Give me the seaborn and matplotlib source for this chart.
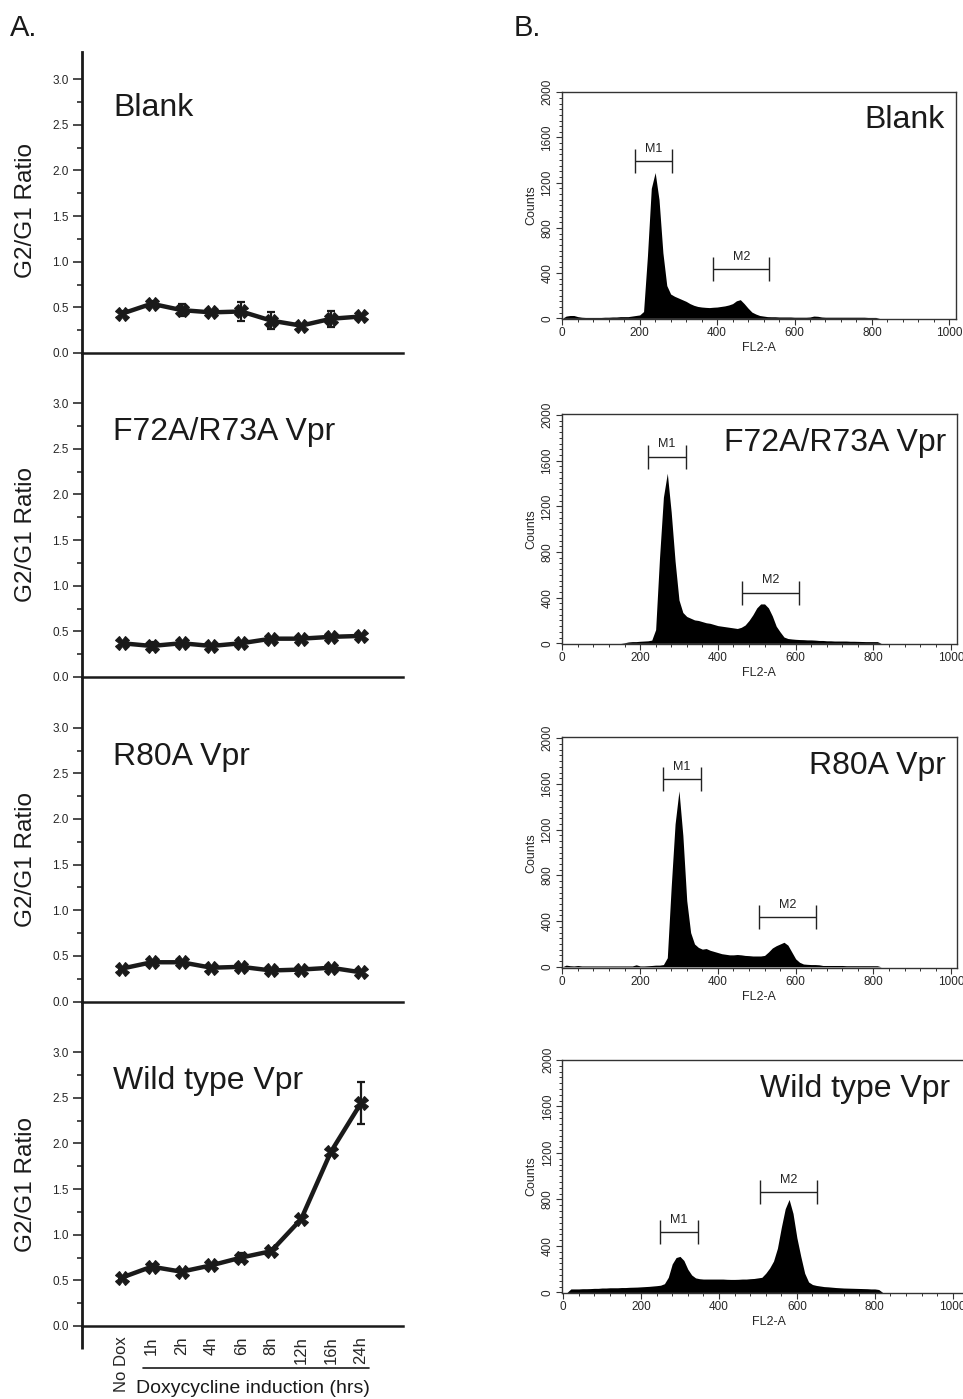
import numpy as np
import pandas as pd
import matplotlib
matplotlib.use("Agg")
import matplotlib.pyplot as plt
from matplotlib.ticker import MultipleLocator, FixedLocator
import seaborn as sns

sns.set_theme(style="ticks")
plt.rcParams["font.family"] = ["Liberation Sans", "DejaVu Sans"]

# --- A: G2/G1 ratio time course ---
time_labels = ["No Dox", "1h", "2h", "4h", "6h", "8h", "12h", "16h", "24h"]
panel_names = ["Blank", "F72A/R73A Vpr", "R80A Vpr", "Wild type Vpr"]

blank_ratio = [0.43, 0.54, 0.47, 0.445, 0.455, 0.355, 0.30, 0.375, 0.40]
blank_err = [0.03, 0.03, 0.07, 0.03, 0.10, 0.09, 0.02, 0.09, 0.03]
f72_ratio = [0.37, 0.34, 0.37, 0.34, 0.37, 0.42, 0.42, 0.44, 0.45]
f72_err = [0.02, 0.04, 0.02, 0.02, 0.02, 0.02, 0.02, 0.02, 0.02]
r80_ratio = [0.36, 0.43, 0.43, 0.37, 0.38, 0.34, 0.35, 0.37, 0.32]
r80_err = [0.02, 0.02, 0.02, 0.02, 0.02, 0.02, 0.02, 0.02, 0.02]
wt_ratio = [0.53, 0.65, 0.595, 0.665, 0.75, 0.82, 1.17, 1.91, 2.44]
wt_err = [0.02, 0.03, 0.02, 0.03, 0.05, 0.03, 0.02, 0.03, 0.23]

ratios = [blank_ratio, f72_ratio, r80_ratio, wt_ratio]
errors = [blank_err, f72_err, r80_err, wt_err]

# --- B: DNA content histograms (FL2-A channel, counts) ---
channels = list(range(0, 830, 10))
blank_counts = [0, 20, 25, 25, 15, 10, 8, 8, 8, 8,
                8, 10, 10, 12, 12, 15, 15, 15, 20, 25,
                30, 60, 550, 1150, 1290, 1050, 580, 290, 215, 195,
                180, 165, 150, 130, 115, 105, 100, 97, 95, 98,
                100, 105, 110, 118, 130, 155, 165, 130, 90, 55,
                38, 25, 20, 15, 14, 14, 12, 12, 12, 12,
                10, 10, 10, 10, 12, 20, 18, 12, 10, 10,
                10, 10, 10, 10, 10, 10, 10, 10, 10, 8,
                8, 8, 0]
f72_counts = [0, 0, 0, 0, 0, 0, 0, 0, 0, 0,
              0, 0, 0, 0, 0, 0, 5, 12, 15, 15,
              18, 20, 22, 28, 120, 750, 1280, 1490, 1150, 720,
              380, 270, 235, 220, 205, 200, 190, 180, 175, 165,
              155, 150, 145, 140, 135, 130, 140, 160, 200, 250,
              310, 345, 345, 310, 240, 150, 100, 55, 42, 38,
              35, 33, 32, 30, 30, 28, 25, 25, 22, 22,
              20, 20, 20, 20, 18, 18, 17, 16, 15, 15,
              15, 15, 0]
r80_counts = [0, 15, 10, 8, 12, 8, 8, 8, 8, 8,
              8, 8, 8, 8, 8, 8, 8, 8, 8, 18,
              8, 8, 10, 12, 15, 15, 20, 80, 700, 1250,
              1540, 1150, 580, 300, 200, 170, 155, 160, 145, 135,
              125, 115, 110, 105, 105, 108, 105, 100, 98, 95,
              95, 95, 100, 130, 165, 185, 200, 215, 190, 130,
              70, 40, 25, 22, 20, 20, 18, 12, 12, 12,
              12, 12, 12, 10, 10, 10, 10, 10, 10, 10,
              10, 10, 0]
wt_counts = [0, 0, 30, 30, 30, 32, 32, 33, 35, 35,
             38, 38, 40, 40, 40, 42, 42, 44, 45, 46,
             48, 50, 52, 55, 58, 62, 75, 130, 245, 300,
             310, 275, 200, 150, 125, 118, 115, 115, 115, 115,
             115, 115, 113, 112, 112, 113, 115, 115, 118, 120,
             125, 130, 165, 210, 270, 380, 560, 720, 800, 680,
             470, 310, 165, 90, 68, 60, 55, 50, 48, 45,
             42, 40, 38, 37, 36, 35, 34, 33, 32, 30,
             30, 25, 0]
hist_counts = [blank_counts, f72_counts, r80_counts, wt_counts]

# marker gates: (low, high, height)
m1_gates = [(188, 284, 1392), (220, 317, 1635), (259, 356, 1644), (249, 345, 520)]
m2_gates = [(390, 535, 434), (463, 609, 444), (506, 652, 438), (506, 651, 866)]

W, H = 963, 1399
fig = plt.figure(figsize=(W / 100, H / 100), dpi=100)


def box(l, t, r, b):
    return [l / W, 1 - b / H, (r - l) / W, (b - t) / H]


# left column
zero_y = [353, 677, 1001.5, 1326]
pos = np.arange(len(time_labels))
for i in range(4):
    ax = fig.add_axes(box(82, zero_y[i] - 324, 403, zero_y[i]))
    ax.patch.set_visible(False)
    df = pd.DataFrame({"t": pos, "ratio": ratios[i]})
    ax.errorbar(df["t"], df["ratio"], yerr=errors[i], fmt="none", ecolor="#1a1a1a",
                elinewidth=1.6, capsize=3, capthick=1.6, zorder=2)
    sns.lineplot(data=df, x="t", y="ratio", ax=ax, color="#1a1a1a", linewidth=3.2,
                 marker="X", markersize=10, markeredgecolor="#1a1a1a", zorder=3)
    ax.set_xlim(-1.33, 9.41)
    ax.set_ylim(0, 3.55)
    ax.yaxis.set_major_locator(FixedLocator([0, 0.5, 1.0, 1.5, 2.0, 2.5, 3.0]))
    ax.yaxis.set_minor_locator(FixedLocator([0.25, 0.75, 1.25, 1.75, 2.25, 2.75]))
    ax.set_yticklabels(["0.0", "0.5", "1.0", "1.5", "2.0", "2.5", "3.0"])
    ax.tick_params(axis="y", which="major", direction="out", length=6.5, width=1.1,
                   labelsize=8.5, pad=3, color="#1a1a1a")
    ax.tick_params(axis="y", which="minor", direction="out", length=3.5, width=1.1,
                   color="#1a1a1a")
    for s in ["top", "right"]:
        ax.spines[s].set_visible(False)
    ax.spines["left"].set_linewidth(2)
    ax.spines["bottom"].set_linewidth(1.8)
    ax.spines["left"].set_color("#1a1a1a")
    ax.spines["bottom"].set_color("#1a1a1a")
    if i == 0:
        ax.spines["left"].set_bounds(0, 3.3)
    ax.set_xlabel("")
    ax.set_ylabel("")
    ax.text(0.0966, 0.73, panel_names[i], transform=ax.transAxes, fontsize=23,
            va="baseline", ha="left", color="#1a1a1a")
    fig.text(26 / W, 1 - (zero_y[i] - 142) / H, "G2/G1 Ratio", rotation=90,
             ha="center", va="center", fontsize=17.5, color="#1a1a1a")
    ax.set_xticks(pos)
    if i < 3:
        ax.set_xticklabels([])
        ax.tick_params(axis="x", length=0)
    else:
        ax.set_xticklabels(time_labels, rotation=90, fontsize=12)
        ax.tick_params(axis="x", length=0, pad=7.5)
        trans = ax.get_xaxis_transform()
        ax.plot([-1.33, -1.33], [0, -0.071], transform=trans,
                color="#1a1a1a", lw=2, clip_on=False, solid_capstyle="butt")
        ax.plot([0.7, 8.27], [-0.13, -0.13], transform=trans, color="#1a1a1a",
                lw=1.2, clip_on=False)
        ax.text(4.4, -0.207, "Doxycycline induction (hrs)", transform=trans,
                ha="center", va="baseline", fontsize=14, color="#1a1a1a")

# right column
hist_boxes = [(561.7, 91.7, 955.7, 319), (561.7, 414.3, 956.7, 644),
              (561.7, 737.3, 956.7, 968), (562.3, 1060, 975, 1293)]
hist_xlim = [(-1.5, 1016.5), (-1.5, 1014), (-1.5, 1014), (-2, 1057)]
hist_ylim = [(-6, 2005), (-6, 2006), (-10, 2008), (-5, 2000)]
title_x = [0.973, 0.973, 0.973, 0.939]
for i in range(4):
    ax = fig.add_axes(box(*hist_boxes[i]))
    ax.patch.set_visible(False)
    dfh = pd.DataFrame({"ch": channels, "n": hist_counts[i]})
    sns.histplot(data=dfh, x="ch", weights="n", binwidth=10, binrange=(-5, 825),
                 element="poly", fill=True, color="black", alpha=1, linewidth=0, ax=ax)
    ax.set_xlim(*hist_xlim[i])
    ax.set_ylim(*hist_ylim[i])
    ax.xaxis.set_major_locator(MultipleLocator(200))
    ax.xaxis.set_minor_locator(MultipleLocator(40))
    ax.yaxis.set_major_locator(MultipleLocator(400))
    ax.yaxis.set_minor_locator(MultipleLocator(50))
    ax.tick_params(which="major", direction="out", length=4, width=0.8,
                   labelsize=8.5, pad=2, color="#333333")
    ax.tick_params(which="minor", direction="out", length=2.2, width=0.7,
                   color="#333333")
    ax.tick_params(axis="y", labelrotation=90)
    for t in ax.get_yticklabels():
        t.set_va("center")
    for s in ax.spines.values():
        s.set_linewidth(1.0)
        s.set_color("#333333")
        s.set_visible(True)
    ax.set_xlabel("FL2-A", fontsize=9, labelpad=2)
    ax.set_ylabel("Counts", fontsize=9, labelpad=3)
    for lo, hi, yv, lab in [(*m1_gates[i], "M1"), (*m2_gates[i], "M2")]:
        c = (lo + hi) / 2
        ax.errorbar([c], [yv], xerr=[(hi - lo) / 2], fmt="none", ecolor="#222222",
                    elinewidth=1.0, capsize=8.6, capthick=1.0)
        ax.annotate(lab, xy=(c, yv), xytext=(0, 4.5), textcoords="offset points",
                    ha="center", va="bottom", fontsize=9, color="#222222")
    ax.text(title_x[i], 0.84, panel_names[i], transform=ax.transAxes, fontsize=23,
            ha="right", va="baseline", color="#1a1a1a")

fig.text(10 / W, 1 - 36 / H, "A.", fontsize=21, va="baseline", ha="left", color="#1a1a1a")
fig.text(514 / W, 1 - 36 / H, "B.", fontsize=21, va="baseline", ha="left", color="#1a1a1a")

fig.savefig("out.png", dpi=100)
